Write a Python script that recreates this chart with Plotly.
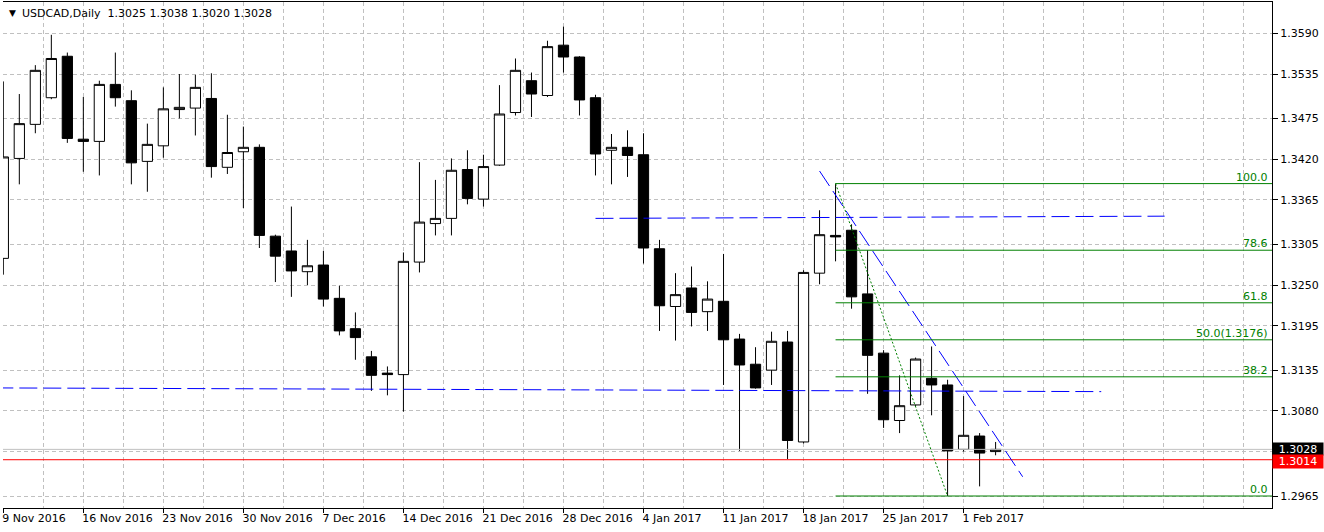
import plotly.graph_objects as go

# ---------------- data ----------------
bar_index = list(range(63))

opens = [1.3286, 1.3421, 1.3467, 1.3503, 1.3559, 1.3447, 1.3444, 1.3521, 1.3499, 1.3417,
         1.3438, 1.3487, 1.3489, 1.3502, 1.3409, 1.3430, 1.3436, 1.3316, 1.3296, 1.3268,
         1.3277, 1.3232, 1.3191, 1.3153, 1.3131, 1.3129, 1.3281, 1.3333, 1.3340, 1.3406,
         1.3366, 1.3412, 1.3483, 1.3526, 1.3506, 1.3574, 1.3558, 1.3503, 1.3432, 1.3436,
         1.3426, 1.3299, 1.3221, 1.3246, 1.3214, 1.3228, 1.3177, 1.3143, 1.3135, 1.3173,
         1.3038, 1.3266, 1.3317, 1.3324, 1.3238, 1.3158, 1.3067, 1.3088, 1.3124, 1.3115,
         1.3028, 1.3046, 1.3025]
highs = [1.3525, 1.3508, 1.3547, 1.3588, 1.3564, 1.3504, 1.3526, 1.3564, 1.3513, 1.3468,
         1.3517, 1.3535, 1.3534, 1.3536, 1.3480, 1.3464, 1.3440, 1.3318, 1.3356, 1.3311,
         1.3296, 1.3249, 1.3213, 1.3161, 1.3140, 1.3294, 1.3416, 1.3392, 1.3421, 1.3432,
         1.3426, 1.3520, 1.3556, 1.3537, 1.3580, 1.3599, 1.3559, 1.3507, 1.3454, 1.3459,
         1.3455, 1.3311, 1.3266, 1.3275, 1.3255, 1.3292, 1.3184, 1.3166, 1.3187, 1.3188,
         1.3270, 1.3351, 1.3387, 1.3332, 1.3297, 1.3162, 1.3128, 1.3152, 1.3167, 1.3122,
         1.3100, 1.3050, 1.3038]
lows = [1.3264, 1.3386, 1.3455, 1.3501, 1.3442, 1.3403, 1.3398, 1.3491, 1.3386, 1.3376,
        1.3422, 1.3475, 1.3452, 1.3395, 1.3400, 1.3354, 1.3300, 1.3254, 1.3234, 1.3250,
        1.3221, 1.3182, 1.3149, 1.3107, 1.3101, 1.3079, 1.3267, 1.3317, 1.3317, 1.3359,
        1.3356, 1.3411, 1.3479, 1.3477, 1.3504, 1.3537, 1.3479, 1.3398, 1.3386, 1.3396,
        1.3279, 1.3188, 1.3175, 1.3194, 1.3188, 1.3115, 1.3026, 1.3110, 1.3115, 1.3015,
        1.3036, 1.3251, 1.3282, 1.3218, 1.3103, 1.3057, 1.3050, 1.3086, 1.3074, 1.2965,
        1.3025, 1.2978, 1.3020]
closes = [1.3423, 1.3468, 1.3540, 1.3556, 1.3448, 1.3444, 1.3521, 1.3503, 1.3415, 1.3440,
          1.3488, 1.3490, 1.3517, 1.3410, 1.3429, 1.3436, 1.3317, 1.3289, 1.3269, 1.3276,
          1.3231, 1.3188, 1.3179, 1.3128, 1.3129, 1.3282, 1.3335, 1.3340, 1.3405, 1.3367,
          1.3410, 1.3481, 1.3540, 1.3508, 1.3572, 1.3558, 1.3500, 1.3427, 1.3436, 1.3425,
          1.3300, 1.3222, 1.3237, 1.3213, 1.3231, 1.3176, 1.3142, 1.3111, 1.3174, 1.3040,
          1.3267, 1.3318, 1.3315, 1.3234, 1.3155, 1.3068, 1.3087, 1.3150, 1.3115, 1.3026,
          1.3047, 1.3023, 1.3028]

date_tick_pos = [0, 5, 10, 15, 20, 25, 30, 35, 40, 45, 50, 55, 60]
date_tick_text = ["9 Nov 2016", "16 Nov 2016", "23 Nov 2016", "30 Nov 2016", "7 Dec 2016",
                  "14 Dec 2016", "21 Dec 2016", "28 Dec 2016", "4 Jan 2017", "11 Jan 2017",
                  "18 Jan 2017", "25 Jan 2017", "1 Feb 2017"]

price_ticks = [1.2965, 1.3025, 1.3080, 1.3135, 1.3195, 1.3250, 1.3305, 1.3365,
               1.3420, 1.3475, 1.3535, 1.3590]
price_tick_text = ["1.2965", "", "1.3080", "1.3135", "1.3195", "1.3250", "1.3305", "1.3365",
                   "1.3420", "1.3475", "1.3535", "1.3590"]

# drawn objects
upper_level_x = [37.0, 72.56]
upper_level_y = [1.3340, 1.3343]
lower_level_x = [-0.5, 68.6]
lower_level_y = [1.3111, 1.3106]
trend_x = [51.0, 63.69]
trend_y = [1.3404, 1.2991]
fib_anchor_x = [52, 59]
fib_anchor_y = [1.3387, 1.2965]
fib_levels = [1.3387, 1.3297, 1.3226, 1.3176, 1.3126, 1.2965]
fib_labels = ["100.0", "78.6", "61.8", "50.0(1.3176)", "38.2", "0.0"]
fib_start = 52
fib_end = 85

bid_price = 1.3028
alert_price = 1.3014

title_text = "USDCAD,Daily\u00a0\u00a01.3025 1.3038 1.3020 1.3028"

FONT = "DejaVu Sans"
GREEN = "#008000"

fig = go.Figure()

fig.add_trace(go.Candlestick(
    x=bar_index, open=opens, high=highs, low=lows, close=closes,
    increasing=dict(fillcolor="white", line=dict(color="black", width=1)),
    decreasing=dict(fillcolor="black", line=dict(color="black", width=1)),
    whiskerwidth=0, hoverinfo="skip", showlegend=False,
))

# bid line and alert line
fig.add_trace(go.Scatter(x=[-5, 90], y=[bid_price, bid_price], mode="lines",
                         line=dict(color="#C0C0C0", width=1), hoverinfo="skip", showlegend=False))
fig.add_trace(go.Scatter(x=[-5, 90], y=[alert_price, alert_price], mode="lines",
                         line=dict(color="#FF0000", width=1), hoverinfo="skip", showlegend=False))

# blue dashed horizontal levels
for xs, ys in [(upper_level_x, upper_level_y), (lower_level_x, lower_level_y)]:
    fig.add_trace(go.Scatter(x=xs, y=ys, mode="lines",
                             line=dict(color="#0000FF", width=1, dash="18px,6px"),
                             hoverinfo="skip", showlegend=False))

# blue descending trendline
fig.add_trace(go.Scatter(x=trend_x, y=trend_y, mode="lines",
                         line=dict(color="#0000FF", width=1, dash="18px,6px"),
                         hoverinfo="skip", showlegend=False))

# fibonacci levels
for lvl in fib_levels:
    fig.add_trace(go.Scatter(x=[fib_start, fib_end], y=[lvl, lvl], mode="lines",
                             line=dict(color=GREEN, width=1),
                             hoverinfo="skip", showlegend=False))
fig.add_trace(go.Scatter(x=fib_anchor_x, y=fib_anchor_y, mode="lines",
                         line=dict(color=GREEN, width=1, dash="2px,2px"),
                         hoverinfo="skip", showlegend=False))

annotations = []
for lvl, lab in zip(fib_levels, fib_labels):
    annotations.append(dict(x=1, xref="paper", xanchor="right", xshift=-2,
                            y=lvl, yref="y", yanchor="bottom", yshift=-2,
                            text=lab, showarrow=False,
                            font=dict(family=FONT, size=11, color=GREEN)))

# price boxes on the right axis
annotations.append(dict(x=1, xref="paper", xanchor="left", xshift=0,
                        y=bid_price, yref="y", yanchor="middle",
                        text="1.3028", showarrow=False, bgcolor="black",
                        width=48, height=10, borderpad=1, align="center",
                        font=dict(family=FONT, size=11, color="white")))
annotations.append(dict(x=1, xref="paper", xanchor="left", xshift=0,
                        y=alert_price, yref="y", yanchor="middle", yshift=-2,
                        text="1.3014", showarrow=False, bgcolor="#FF0000",
                        width=48, height=11, borderpad=1, align="center",
                        font=dict(family=FONT, size=11, color="white")))

# header
annotations.append(dict(x=0, xref="paper", xanchor="left", xshift=4,
                        y=1, yref="paper", yanchor="top", yshift=-4,
                        text="\u25BC", showarrow=False,
                        font=dict(family=FONT, size=9, color="black")))
annotations.append(dict(x=0, xref="paper", xanchor="left", xshift=17,
                        y=1, yref="paper", yanchor="top", yshift=-3,
                        text=title_text, showarrow=False,
                        font=dict(family=FONT, size=11, color="black")))

fig.update_layout(
    width=1324, height=532,
    margin=dict(l=3, r=52, t=2, b=24),
    paper_bgcolor="white", plot_bgcolor="white",
    font=dict(family=FONT, size=11, color="black"),
    showlegend=False,
    boxgap=0.36, boxgroupgap=0,
    annotations=annotations,
    xaxis=dict(
        range=[-0.02, 79.27],
        rangeslider=dict(visible=False),
        tickmode="array", tickvals=date_tick_pos, ticktext=date_tick_text,
        ticklabelposition="outside right", ticklabelshift=-2,
        ticks="outside", ticklen=4, tickcolor="black",
        showline=True, linecolor="black", linewidth=1, mirror=True,
        showgrid=True, gridcolor="#C0C0C0", griddash="4px,3px", gridwidth=1,
        minor=dict(tick0=0, dtick=2.5, showgrid=True, gridcolor="#C0C0C0",
                   griddash="4px,3px", gridwidth=1, ticks=""),
        zeroline=False, fixedrange=True,
    ),
    yaxis=dict(
        side="right",
        range=[1.29488, 1.36323],
        tickmode="array", tickvals=price_ticks, ticktext=price_tick_text,
        ticks="outside", ticklen=5, tickcolor="black",
        showline=True, linecolor="black", linewidth=1, mirror=False,
        showgrid=True, gridcolor="#C0C0C0", griddash="4px,3px", gridwidth=1,
        zeroline=False, fixedrange=True,
    ),
)

fig.write_html("out.html")
